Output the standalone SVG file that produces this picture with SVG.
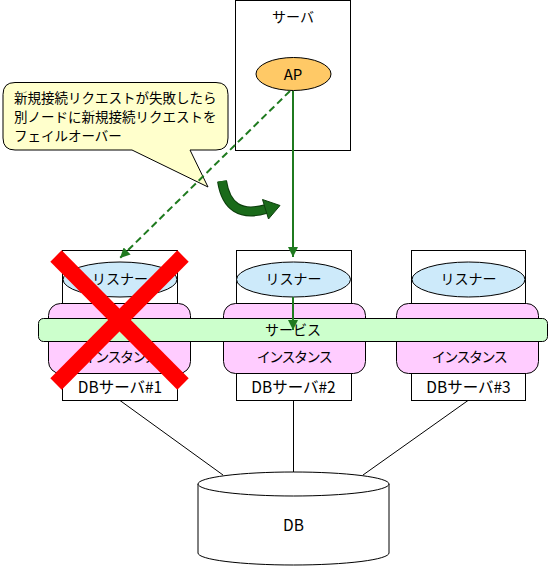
<svg xmlns="http://www.w3.org/2000/svg" width="549" height="566" viewBox="0 0 549 566">
<style>
text{font-family:"Noto Sans CJK JP","Noto Sans",sans-serif;font-size:14px;fill:#000;text-anchor:middle}
.dbl{font-size:15.5px}
.box{fill:#fff;stroke:#000;stroke-width:1}
.lis{fill:#cdeafa;stroke:#000;stroke-width:1}
.inst{fill:#ffccff;stroke:#000;stroke-width:1}
.line{stroke:#000;stroke-width:1;fill:none}
.g{stroke:#1f7a1f;stroke-width:2;fill:none}
.x{stroke:#ff0000;stroke-width:16;stroke-linecap:butt}
</style>
<defs>
<marker id="ah" viewBox="0 0 10 10" refX="10" refY="5" markerWidth="5" markerHeight="5" orient="auto" markerUnits="strokeWidth">
<path d="M0,0 L10,5 L0,10 z" fill="#1f7a1f"/>
</marker>
</defs>
<g id="server">
<rect class="box" x="235.5" y="0.5" width="115" height="150"/>
<text x="293" y="22">サーバ</text>
</g>
<g id="ap">
<ellipse cx="293.5" cy="74" rx="37.5" ry="16.5" fill="#ffc966" stroke="#000"/>
<text x="293" y="80" style="font-size:15px">AP</text>
</g>
<g id="callout">
<path d="M15,82.5 H216 Q228,82.5 228,94.5 V138 Q228,150 216,150 H190 L208,187 L132,150 H15 Q3,150 3,138 V94.5 Q3,82.5 15,82.5 Z" fill="#ffffcc" stroke="#000"/>
<text x="14" y="103" style="text-anchor:start;font-size:13.5px">新規接続リクエストが失敗したら</text>
<text x="14" y="122" style="text-anchor:start;font-size:13.5px">別ノードに新規接続リクエストを</text>
<text x="14" y="141" style="text-anchor:start;font-size:13.5px">フェイルオーバー</text>
</g>
<g id="dbserver1">
<rect class="box" x="62.5" y="250.5" width="115" height="150"/>
<ellipse class="lis" cx="120" cy="279.5" rx="57" ry="17.5"/>
<text x="120" y="284">リスナー</text>
<rect class="inst" x="48.5" y="303.5" width="142" height="70" rx="12"/>
<text class="dbl" x="120" y="392.5">DBサーバ#1</text>
</g>
<g id="dbserver2">
<rect class="box" x="236.5" y="250.5" width="115" height="150"/>
<ellipse class="lis" cx="293.5" cy="279.5" rx="57" ry="17.5"/>
<text x="293.5" y="284">リスナー</text>
<rect class="inst" x="223.5" y="303.5" width="142" height="70" rx="12"/>
<text class="dbl" x="293.5" y="392.5">DBサーバ#2</text>
</g>
<g id="dbserver3">
<rect class="box" x="411.5" y="250.5" width="114" height="150"/>
<ellipse class="lis" cx="468.5" cy="279.5" rx="56.5" ry="17.5"/>
<text x="468.5" y="284">リスナー</text>
<rect class="inst" x="396.5" y="303.5" width="142" height="70" rx="12"/>
<text class="dbl" x="468.5" y="392.5">DBサーバ#3</text>
</g>
<g id="service">
<rect x="38.5" y="318.5" width="509" height="23" rx="5" fill="#ccffcc" stroke="#000"/>
<text x="293" y="335">サービス</text>
</g>
<g id="instance-labels">
<text x="120" y="362" style="letter-spacing:-1.5px">インスタンス</text>
<text x="294" y="362" style="letter-spacing:-1.5px">インスタンス</text>
<text x="469" y="362" style="letter-spacing:-1.5px">インスタンス</text>
</g>
<g id="db">
<path d="M198,484 V553 A95.5,12 0 0 0 389,553 V484" fill="#fff" stroke="#000"/>
<ellipse cx="293.5" cy="484" rx="95.5" ry="12" fill="#fff" stroke="#000"/>
<text x="293.5" y="531" style="font-size:15.5px">DB</text>
</g>
<g id="connectors">
<line class="line" x1="120" y1="400.5" x2="223" y2="475"/>
<line class="line" x1="293.5" y1="400.5" x2="293.5" y2="472"/>
<line class="line" x1="468" y1="400.5" x2="363" y2="475"/>
<line class="g" x1="293" y1="91" x2="293" y2="257" marker-end="url(#ah)"/>
<line class="g" x1="293" y1="297" x2="293" y2="330" marker-end="url(#ah)"/>
<line class="g" x1="290" y1="91" x2="120" y2="258" stroke-dasharray="7,4" marker-end="url(#ah)"/>
<path d="M222,181 Q228,220 266,209" fill="none" stroke="#0d3f0d" stroke-width="10"/>
<path d="M222,181 Q228,220 266,209" fill="none" stroke="#1a6b1a" stroke-width="8"/>
<polygon points="262.5,199.5 280,205.5 268.5,219" fill="#1a6b1a" stroke="#0d3f0d" stroke-width="1"/>
</g>
<g id="cross">
<line class="x" x1="56" y1="256" x2="183" y2="384"/>
<line class="x" x1="183" y1="256" x2="56" y2="384"/>
</g>
</svg>
